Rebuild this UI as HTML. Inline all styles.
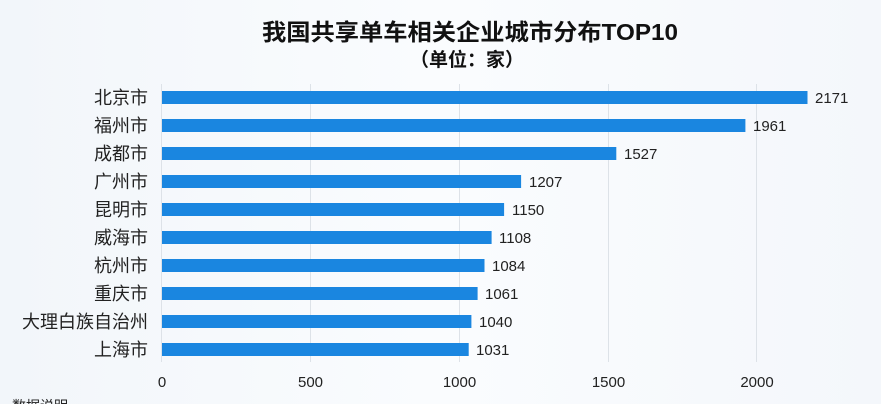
<!DOCTYPE html>
<html><head><meta charset="utf-8"><style>
body{margin:0;width:881px;height:404px;overflow:hidden;background:linear-gradient(90deg,#f2f6fa,#fafcfe 50%,#f4f7fb);font-family:"Liberation Sans","Noto Sans CJK SC",sans-serif;}
</style></head><body>
<svg width="881" height="404" xmlns="http://www.w3.org/2000/svg" style="position:absolute;left:0;top:0">
<text x="470" y="40" text-anchor="middle" font-size="23" font-weight="bold" fill="#111" font-family="Liberation Sans,Noto Sans CJK SC,sans-serif" textLength="416" lengthAdjust="spacingAndGlyphs">我国共享单车相关企业城市分布TOP10</text>
<text x="467" y="66" text-anchor="middle" font-size="19" font-weight="bold" fill="#111" font-family="Liberation Sans,Noto Sans CJK SC,sans-serif">（单位：家）</text>
<g stroke="#dde2e8" stroke-width="1">
<line x1="161.5" y1="84" x2="161.5" y2="362"/>
<line x1="310.5" y1="84" x2="310.5" y2="362"/>
<line x1="459.5" y1="84" x2="459.5" y2="362"/>
<line x1="608.5" y1="84" x2="608.5" y2="362"/>
<line x1="756.5" y1="84" x2="756.5" y2="362"/>
</g>
<g font-family="Liberation Sans,Noto Sans CJK SC,sans-serif">
<g font-size="18" fill="#222" text-anchor="end">
<text x="148" y="104">北京市</text><text x="148" y="132">福州市</text><text x="148" y="160">成都市</text><text x="148" y="188">广州市</text><text x="148" y="216">昆明市</text><text x="148" y="244">威海市</text><text x="148" y="272">杭州市</text><text x="148" y="300">重庆市</text><text x="148" y="328">大理白族自治州</text><text x="148" y="356">上海市</text>
</g>
<g fill="#1a86e0">
<rect x="162" y="91" width="645.5" height="13"/>
<rect x="162" y="119" width="583.4" height="13"/>
<rect x="162" y="147" width="454.3" height="13"/>
<rect x="162" y="175" width="359.1" height="13"/>
<rect x="162" y="203" width="342.1" height="13"/>
<rect x="162" y="231" width="329.6" height="13"/>
<rect x="162" y="259" width="322.5" height="13"/>
<rect x="162" y="287" width="315.6" height="13"/>
<rect x="162" y="315" width="309.4" height="13"/>
<rect x="162" y="343" width="306.7" height="13"/>
</g>
<g font-size="15" fill="#222">
<text x="815" y="103">2171</text><text x="753" y="131">1961</text><text x="624" y="159">1527</text><text x="529" y="187">1207</text><text x="512" y="215">1150</text><text x="499" y="243">1108</text><text x="492" y="271">1084</text><text x="485" y="299">1061</text><text x="479" y="327">1040</text><text x="476" y="355">1031</text>
</g>
<g font-size="15" fill="#222" text-anchor="middle">
<text x="162" y="387">0</text><text x="310.5" y="387">500</text><text x="459.5" y="387">1000</text><text x="608.5" y="387">1500</text><text x="757" y="387">2000</text>
</g>
<text x="12" y="411" font-size="14" fill="#222">数据说明</text>
</g>
</svg>
</body></html>
